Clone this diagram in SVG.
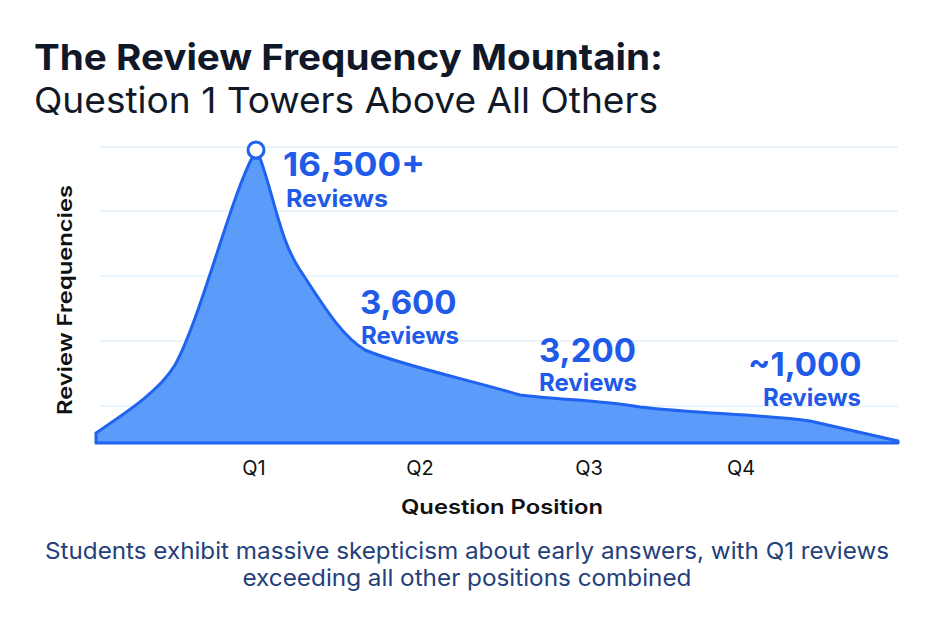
<svg xmlns="http://www.w3.org/2000/svg" width="940" height="627" viewBox="0 0 940 627">
<style>
.grid{stroke:#e3f0fb;stroke-width:1.5}
.t{font-family:Inter,"Liberation Sans",sans-serif}
.val{font-family:Inter,"Liberation Sans",sans-serif;fill:#1f5ae8;font-weight:700}
.ax{font-family:Inter,"Liberation Sans",sans-serif;fill:#111;font-size:20px}
</style>
<rect width="940" height="627" fill="#fff"/>
<text class="t" x="34" y="70" font-size="36" font-weight="700" fill="#111827" textLength="629" lengthAdjust="spacingAndGlyphs">The Review Frequency Mountain:</text>
<text class="t" x="34" y="113" font-size="36" fill="#111827" textLength="624" lengthAdjust="spacingAndGlyphs">Question 1 Towers Above All Others</text>
<g id="grid">
<line class="grid" x1="100" y1="147" x2="898" y2="147"/>
<line class="grid" x1="100" y1="211" x2="898" y2="211"/>
<line class="grid" x1="100" y1="276" x2="898" y2="276"/>
<line class="grid" x1="100" y1="341" x2="898" y2="341"/>
<line class="grid" x1="100" y1="406" x2="898" y2="406"/>
</g>
<g id="area">
<path d="M96,433 C130,410 160,390 175,365 C200,320 230,200 252,158 L260,158 C275,200 280,240 300,270 C320,300 340,335 365,350 C400,365 470,380 520,395 C560,400 600,400 640,407 C700,414 760,414 810,421 C850,430 880,437 898,441 L898,443 L96,443 Z" fill="#5b9cfb" stroke="#1f63f0" stroke-width="3" stroke-linejoin="round"/>
<circle cx="256" cy="150" r="8" fill="#fff" stroke="#1f63f0" stroke-width="3"/>
</g>
<g id="labels">
<text class="val" x="283" y="176" font-size="33" textLength="142" lengthAdjust="spacingAndGlyphs">16,500+</text>
<text class="val" x="286" y="207" font-size="24" textLength="102" lengthAdjust="spacingAndGlyphs">Reviews</text>
<text class="val" x="360" y="314" font-size="33">3,600</text>
<text class="val" x="361" y="344" font-size="24">Reviews</text>
<text class="val" x="539" y="362" font-size="33">3,200</text>
<text class="val" x="539" y="391" font-size="24">Reviews</text>
<text class="val" x="748" y="376" font-size="33">~1,000</text>
<text class="val" x="763" y="406" font-size="24">Reviews</text>
</g>
<g id="axes">
<text class="ax" x="254" y="475" text-anchor="middle">Q1</text>
<text class="ax" x="420" y="475" text-anchor="middle">Q2</text>
<text class="ax" x="589" y="475" text-anchor="middle">Q3</text>
<text class="ax" x="741" y="475" text-anchor="middle">Q4</text>
<text class="ax" x="502" y="514" text-anchor="middle" font-weight="600" font-size="23" textLength="202" lengthAdjust="spacingAndGlyphs">Question Position</text>
<text class="ax" transform="translate(72,300) rotate(-90)" text-anchor="middle" font-weight="600" font-size="23" textLength="230" lengthAdjust="spacingAndGlyphs">Review Frequencies</text>
</g>
<text class="t" x="467" y="559" text-anchor="middle" font-size="23" fill="#23407a" textLength="844" lengthAdjust="spacingAndGlyphs">Students exhibit massive skepticism about early answers, with Q1 reviews</text>
<text class="t" x="467" y="586" text-anchor="middle" font-size="23" fill="#23407a" textLength="449" lengthAdjust="spacingAndGlyphs">exceeding all other positions combined</text>
</svg>
